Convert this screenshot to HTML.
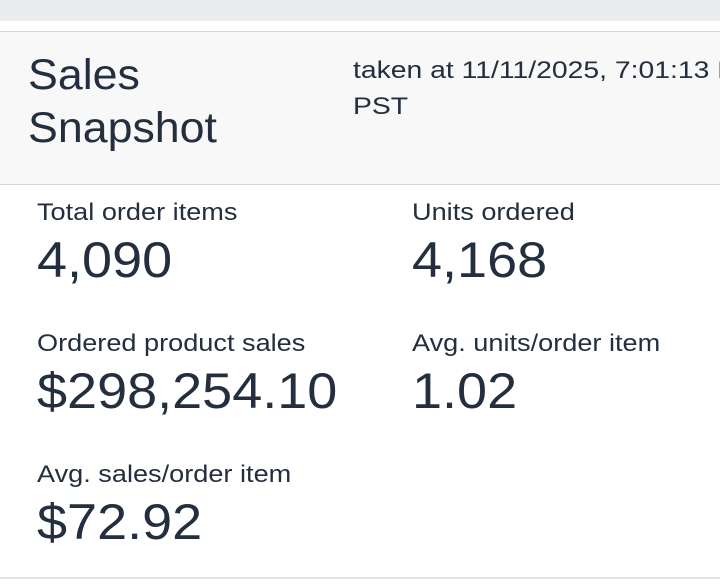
<!DOCTYPE html>
<html><head><style>
body{margin:0;width:720px;height:584px;background:#fff;position:relative;overflow:hidden;font-family:"Liberation Sans",sans-serif;color:#232f3e}
.t{position:absolute;white-space:nowrap;line-height:1;transform-origin:0 0}
.l{font-size:24px;transform:scaleX(1.13)}
.v{font-size:50px;transform:scaleX(1.08)}
</style></head><body>
<div style="position:absolute;left:0;top:0;width:720px;height:21px;background:#ebecee"></div>
<div style="position:absolute;left:0;top:31px;width:720px;height:152px;background:#f8f8f8;border-top:1px solid #d5d7d9;border-bottom:1px solid #d5d7d9"></div>
<div style="position:absolute;left:0;top:577px;width:720px;height:2px;background:#e3e4e6"></div>
<div class="t" style="left:28px;top:54px;font-size:43px;transform:scaleX(1.04)">Sales</div>
<div class="t" style="left:28px;top:107px;font-size:43px;transform:scaleX(1.04)">Snapshot</div>
<div style="position:absolute;left:353px;top:55px;width:367px;height:70px;overflow:hidden">
<div class="t" style="left:0;top:4px;font-size:24px;transform:scaleX(1.18)">taken at 11/11/2025, 7:01:13 PM</div>
<div class="t" style="left:0;top:40px;font-size:24px;transform:scaleX(1.18)">PST</div>
</div>
<div class="t l" style="left:37px;top:201px">Total order items</div>
<div class="t v" style="left:37px;top:235px">4,090</div>
<div class="t l" style="left:412px;top:201px">Units ordered</div>
<div class="t v" style="left:412px;top:235px">4,168</div>
<div class="t l" style="left:37px;top:332px">Ordered product sales</div>
<div class="t v" style="left:37px;top:366px">$298,254.10</div>
<div class="t l" style="left:412px;top:332px">Avg. units/order item</div>
<div class="t v" style="left:412px;top:366px">1.02</div>
<div class="t l" style="left:37px;top:463px">Avg. sales/order item</div>
<div class="t v" style="left:37px;top:497px">$72.92</div>
</body></html>
